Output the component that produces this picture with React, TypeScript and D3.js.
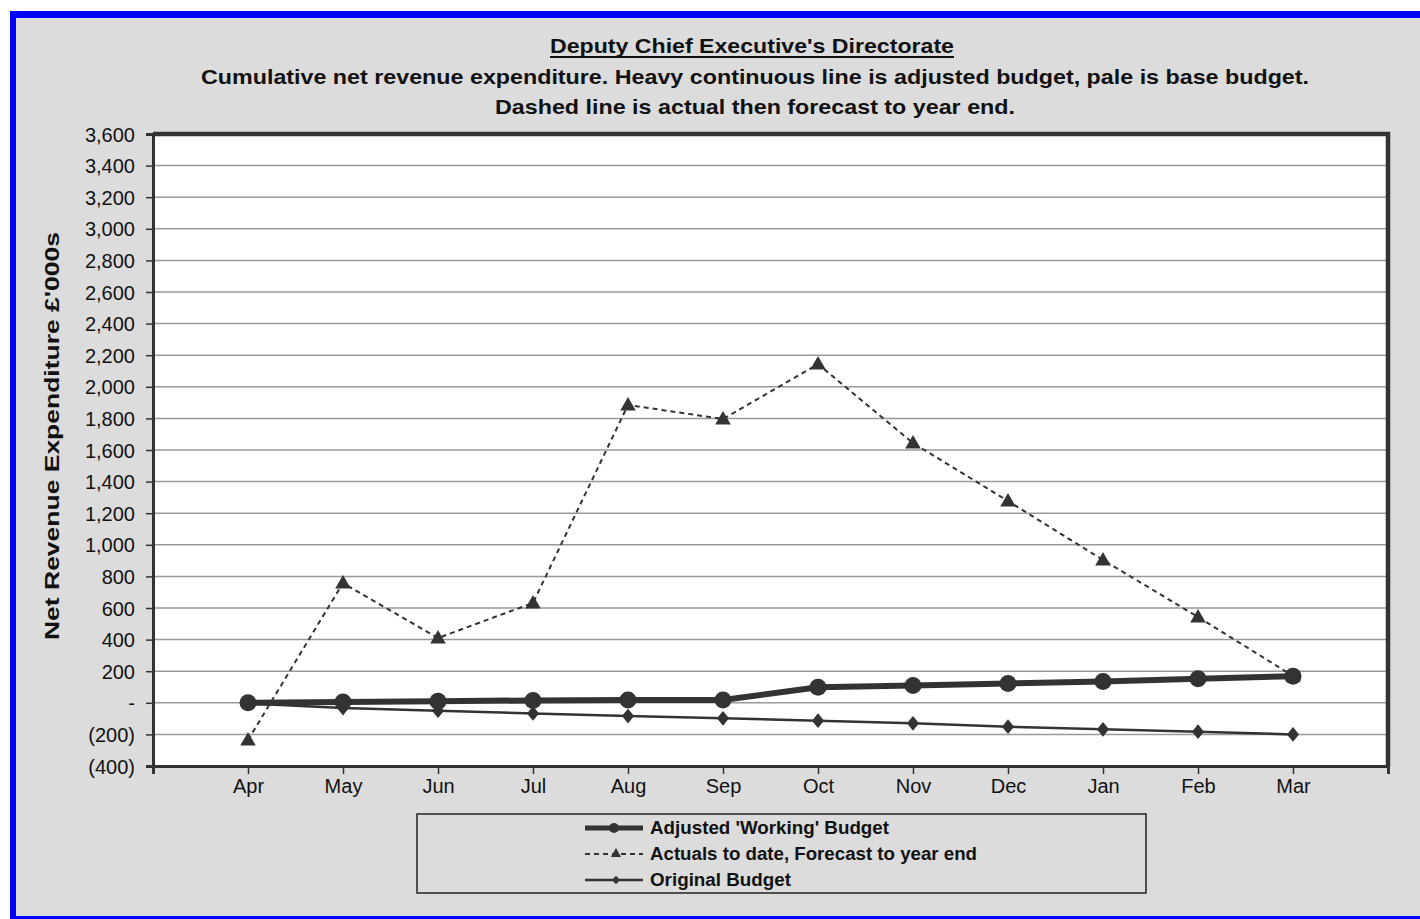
import React, { useEffect, useRef } from "react";
import * as d3 from "d3";

// chart data
const months = ["Apr", "May", "Jun", "Jul", "Aug", "Sep", "Oct", "Nov", "Dec", "Jan", "Feb", "Mar"];
const adjustedBudget = [0, 5, 10, 15, 18, 18, 98, 110, 122, 135, 152, 168];
const actualsForecast = [-236, 758, 410, 632, 1885, 1796, 2144, 1644, 1277, 904, 543, 170];
const originalBudget = [-5, -33, -50, -67, -84, -98, -113, -130, -151, -168, -183, -200];
const yTicks = d3.range(-400, 3601, 200);

const titleText = "Deputy Chief Executive's Directorate";
const subtitleLines = [
    "Cumulative net revenue expenditure. Heavy continuous line is adjusted budget, pale is base budget.",
    "Dashed line is actual then forecast to year end.",
];
const yAxisTitle = "Net Revenue Expenditure £'000s";
const legendLabels = ["Adjusted 'Working' Budget", "Actuals to date, Forecast to year end", "Original Budget"];

const W = 1420;
const H = 919;
const FONT = "'Liberation Sans', Arial, sans-serif";
const INK = "#333333";

function App() {
    const ref = useRef<SVGSVGElement | null>(null);

    useEffect(() => {
        const svg = d3.select(ref.current);
        svg.selectAll("*").remove();

        // outer frame
        svg.append("rect").attr("x", 0).attr("y", 0).attr("width", W).attr("height", H).attr("fill", "#ffffff");
        svg.append("rect").attr("x", 10).attr("y", 11).attr("width", W).attr("height", H).attr("fill", "#0000ff");
        svg.append("rect").attr("x", 16).attr("y", 18).attr("width", W).attr("height", 898).attr("fill", "#dcdcdc");

        const plot = { left: 153, right: 1388, top: 134, bottom: 766 };

        // month index -1 and 12 are the empty ends of the category axis
        const x = d3.scaleLinear().domain([-1, 12]).range([plot.left, plot.right]);
        const y = d3.scaleLinear().domain([-400, 3600]).range([plot.bottom, plot.top]);

        // titles
        svg.append("text")
            .attr("x", 752)
            .attr("y", 53)
            .attr("text-anchor", "middle")
            .attr("font-family", FONT)
            .attr("font-weight", "bold")
            .attr("font-size", 21)
            .attr("textLength", 404)
            .attr("lengthAdjust", "spacingAndGlyphs")
            .attr("fill", "#111")
            .text(titleText);
        svg.append("line")
            .attr("x1", 550)
            .attr("x2", 954)
            .attr("y1", 57)
            .attr("y2", 57)
            .attr("stroke", "#111")
            .attr("stroke-width", 2);
        const subWidths = [1108, 520];
        subtitleLines.forEach((line, i) =>
            svg
                .append("text")
                .attr("x", 755)
                .attr("y", 84 + i * 30)
                .attr("text-anchor", "middle")
                .attr("font-family", FONT)
                .attr("font-weight", "bold")
                .attr("font-size", 21)
                .attr("textLength", subWidths[i])
                .attr("lengthAdjust", "spacingAndGlyphs")
                .attr("fill", "#111")
                .text(line)
        );

        // y axis title
        svg.append("text")
            .attr("transform", "translate(59,436) rotate(-90)")
            .attr("text-anchor", "middle")
            .attr("font-family", FONT)
            .attr("font-weight", "bold")
            .attr("font-size", 21)
            .attr("textLength", 408)
            .attr("lengthAdjust", "spacingAndGlyphs")
            .attr("fill", "#111")
            .text(yAxisTitle);

        // plot area + gridlines
        svg.append("rect")
            .attr("x", plot.left)
            .attr("y", plot.top)
            .attr("width", plot.right - plot.left)
            .attr("height", plot.bottom - plot.top)
            .attr("fill", "#ffffff");

        svg.append("g")
            .selectAll("line")
            .data(yTicks.filter(t => t > -400 && t < 3600))
            .enter()
            .append("line")
            .attr("x1", plot.left)
            .attr("x2", plot.right)
            .attr("y1", d => y(d))
            .attr("y2", d => y(d))
            .attr("stroke", "#999999")
            .attr("stroke-width", 1.5);

        // heavy frame on top and right
        svg.append("path")
            .attr("d", `M${plot.left},${plot.top} H${plot.right} V${plot.bottom}`)
            .attr("fill", "none")
            .attr("stroke", INK)
            .attr("stroke-width", 4.5);

        // y axis
        const fmt = d3.format(",");
        const yAxis = d3
            .axisLeft(y)
            .tickValues(yTicks)
            .tickSize(7)
            .tickPadding(11)
            .tickFormat((d: any) => (d === 0 ? "-" : d < 0 ? "(" + fmt(-d) + ")" : fmt(d)));
        const gy = svg
            .append("g")
            .attr("transform", `translate(${plot.left},0)`)
            .call(yAxis as any);
        gy.select(".domain").attr("stroke", INK).attr("stroke-width", 3);
        gy.selectAll(".tick line").attr("stroke", INK).attr("stroke-width", 1.5);
        gy.selectAll(".tick text")
            .attr("font-family", FONT)
            .attr("font-size", 20)
            .attr("fill", "#111")
            .attr("dy", "0.35em");

        // x axis
        const xAxis = d3
            .axisBottom(x)
            .tickValues(d3.range(-1, 13))
            .tickSize(8)
            .tickPadding(5)
            .tickFormat((d: any) => months[d] || "");
        const gx = svg
            .append("g")
            .attr("transform", `translate(0,${plot.bottom})`)
            .call(xAxis as any);
        gx.select(".domain").attr("stroke", INK).attr("stroke-width", 3);
        gx.selectAll(".tick line").attr("stroke", INK).attr("stroke-width", 1.5);
        gx.selectAll(".tick text").attr("font-family", FONT).attr("font-size", 20).attr("fill", "#111");

        // lines
        const line = d3
            .line<number>()
            .x((d, i) => x(i))
            .y(d => y(d));

        const diamond = d3.symbol().type(d3.symbolDiamond2).size(115);
        const triangle = d3.symbol().type(d3.symbolTriangle).size(105);

        // original budget
        svg.append("path")
            .datum(originalBudget)
            .attr("d", line)
            .attr("fill", "none")
            .attr("stroke", INK)
            .attr("stroke-width", 2.5);
        svg.append("g")
            .selectAll("path")
            .data(originalBudget)
            .enter()
            .append("path")
            .attr("transform", (d, i) => `translate(${x(i)},${y(d)}) scale(0.9,1.1)`)
            .attr("d", diamond as any)
            .attr("fill", INK);

        // adjusted working budget
        svg.append("path")
            .datum(adjustedBudget)
            .attr("d", line)
            .attr("fill", "none")
            .attr("stroke", INK)
            .attr("stroke-width", 6);
        svg.append("g")
            .selectAll("circle")
            .data(adjustedBudget)
            .enter()
            .append("circle")
            .attr("cx", (d, i) => x(i))
            .attr("cy", d => y(d))
            .attr("r", 8.5)
            .attr("fill", INK);

        // actuals / forecast
        svg.append("path")
            .datum(actualsForecast)
            .attr("d", line)
            .attr("fill", "none")
            .attr("stroke", INK)
            .attr("stroke-width", 2)
            .attr("stroke-dasharray", "5,4");
        svg.append("g")
            .selectAll("path")
            .data(actualsForecast)
            .enter()
            .append("path")
            .attr("transform", (d, i) => `translate(${x(i)},${y(d) + 1})`)
            .attr("d", triangle as any)
            .attr("fill", INK);

        // legend
        const lg = svg.append("g");
        lg.append("rect")
            .attr("x", 417)
            .attr("y", 814)
            .attr("width", 729)
            .attr("height", 79)
            .attr("fill", "none")
            .attr("stroke", "#222")
            .attr("stroke-width", 1.5);
        const legendWidths = [239, 327, 141];
        legendLabels.forEach((label, i) => {
            const ly = 828 + i * 26;
            const row = lg.append("g");
            const sample = row
                .append("line")
                .attr("x1", 585)
                .attr("x2", 643)
                .attr("y1", ly)
                .attr("y2", ly)
                .attr("stroke", INK);
            if (i === 0) {
                sample.attr("stroke-width", 5);
                row.append("circle").attr("cx", 614).attr("cy", ly).attr("r", 5).attr("fill", INK);
            } else if (i === 1) {
                sample.attr("stroke-width", 2).attr("stroke-dasharray", "5,4");
                row.append("path")
                    .attr("transform", `translate(616,${ly})`)
                    .attr("d", d3.symbol().type(d3.symbolTriangle).size(45) as any)
                    .attr("fill", INK);
            } else {
                sample.attr("stroke-width", 2.5);
                row.append("path")
                    .attr("transform", `translate(616,${ly}) scale(1,1.1)`)
                    .attr("d", d3.symbol().type(d3.symbolDiamond2).size(40) as any)
                    .attr("fill", INK);
            }
            row.append("text")
                .attr("x", 650)
                .attr("y", ly + 6)
                .attr("font-family", FONT)
                .attr("font-weight", "bold")
                .attr("font-size", 18)
                .attr("textLength", legendWidths[i])
                .attr("lengthAdjust", "spacingAndGlyphs")
                .attr("fill", "#111")
                .text(label);
        });
    }, []);

    return (
        <div style={{ position: "absolute", left: 0, top: 0 }}>
            <svg ref={ref} width={W} height={H} style={{ display: "block" }} />
        </div>
    );
}

export default App;
